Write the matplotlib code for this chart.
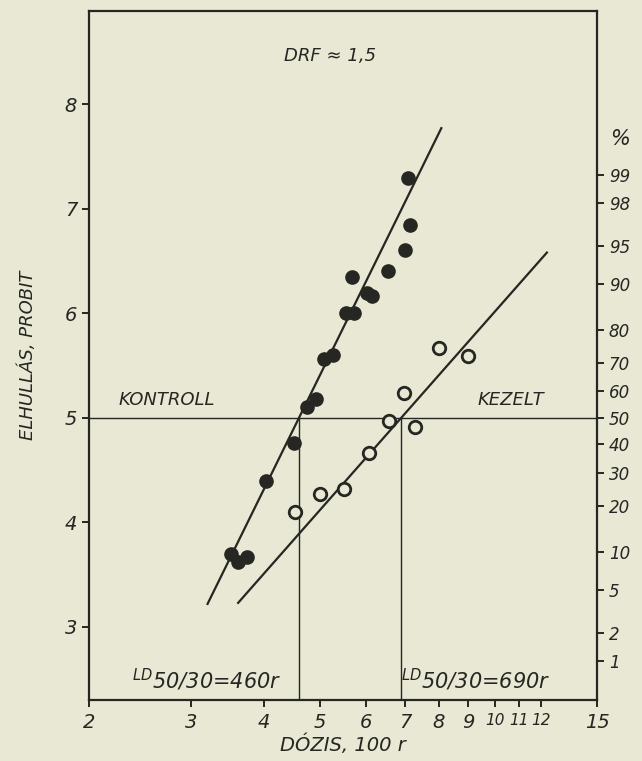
import numpy as np
import matplotlib.pyplot as plt
from matplotlib.ticker import FixedLocator, NullLocator

# control (filled dots): dose in 100 r, probit
kontroll_dose = [7.08, 7.13, 7.01, 6.55, 5.68, 6.03, 6.15, 5.54, 5.72, 5.08, 5.26,
                 4.92, 4.74, 4.51, 4.04, 3.51, 3.74, 3.61]
kontroll_probit = [7.29, 6.84, 6.60, 6.40, 6.35, 6.19, 6.16, 6.00, 6.00, 5.56, 5.60,
                   5.18, 5.10, 4.76, 4.40, 3.70, 3.67, 3.62]

# treated (open circles)
kezelt_dose = [4.53, 5.00, 5.50, 6.06, 6.56, 7.30, 6.98, 8.03, 9.00]
kezelt_probit = [4.10, 4.27, 4.32, 4.66, 4.97, 4.91, 5.24, 5.67, 5.59]

# fitted lines: LD50 (100 r), slope (probit per decade), probit range of drawn line
ld50 = [4.6, 6.9]
slopes = [11.3, 6.3]
line_probits = [(3.22, 7.77), (3.23, 6.58)]

x_ticks = [2, 3, 4, 5, 6, 7, 8, 9, 10, 11, 12, 15]
y_ticks = [3, 4, 5, 6, 7, 8]
pct_labels = [1, 2, 5, 10, 20, 30, 40, 50, 60, 70, 80, 90, 95, 98, 99]
# probit values of the percentages
pct_probits = [2.674, 2.946, 3.355, 3.718, 4.158, 4.476, 4.747, 5.0, 5.253, 5.524,
               5.842, 6.282, 6.645, 7.054, 7.326]

bg = '#e8e8d4'
ink = '#262622'
plt.rcParams['font.family'] = 'DejaVu Sans'
plt.rcParams['font.style'] = 'italic'

fig = plt.figure(figsize=(6.42, 7.61), dpi=100, facecolor=bg)
ax = fig.add_axes([0.1386, 0.080, 0.7914, 0.9055])
ax.set_facecolor(bg)
ax.set_xscale('log')
ax.set_xlim(2, 15)
ax.set_ylim(2.30, 8.89)

# probit 5 line and LD50 drops
ax.axhline(5, color=ink, lw=1.0)
for ld in ld50:
    ax.plot([ld, ld], [2.30, 5], color=ink, lw=1.0)

# fit lines
for ld, b, (y0, y1) in zip(ld50, slopes, line_probits):
    yy = np.array([y0, y1])
    xx = ld * 10 ** ((yy - 5) / b)
    ax.plot(xx, yy, color=ink, lw=1.6)

ax.plot(kontroll_dose, kontroll_probit, 'o', color=ink, ms=9.5, mec=ink)
ax.plot(kezelt_dose, kezelt_probit, 'o', mfc=bg, mec=ink, mew=2.0, ms=9)

for s in ax.spines.values():
    s.set_color(ink)
    s.set_linewidth(1.6)

ax.xaxis.set_major_locator(FixedLocator(x_ticks))
ax.xaxis.set_minor_locator(NullLocator())
ax.set_xticklabels([str(t) for t in x_ticks])
ax.set_yticks(y_ticks)
ax.tick_params(colors=ink, labelsize=14, length=5, width=1.4, direction='out')
ax.tick_params(axis='x', pad=4)
for lbl, t in zip(ax.get_xticklabels(), x_ticks):
    if 10 <= t <= 12:
        lbl.set_fontsize(11)

ax2 = ax.twinx()
ax2.set_ylim(ax.get_ylim())
ax2.set_yticks(pct_probits)
ax2.set_yticklabels([str(p) for p in pct_labels])
ax2.tick_params(colors=ink, labelsize=12, length=5, width=1.4, direction='out')
for s in ax2.spines.values():
    s.set_visible(False)
ax.text(1.025, 0.805, '%', transform=ax.transAxes, fontsize=15, color=ink)

ax.set_xlabel('DÓZIS, 100 r', fontsize=14, color=ink, labelpad=2)
ax.set_ylabel('ELHULLÁS, PROBIT', fontsize=13, color=ink, labelpad=20)

ax.text(0.475, 0.935, 'DRF ≈ 1,5', transform=ax.transAxes, fontsize=13,
        color=ink, ha='center', va='center')
ax.text(0.058, 0.436, 'KONTROLL', transform=ax.transAxes, fontsize=13,
        color=ink, ha='left', va='center')
ax.text(0.895, 0.436, 'KEZELT', transform=ax.transAxes, fontsize=13,
        color=ink, ha='right', va='center')
ax.text(0.085, 0.03, r'$^{LD}$50/30=460r', transform=ax.transAxes, fontsize=15,
        color=ink, ha='left', va='center')
ax.text(0.615, 0.03, r'$^{LD}$50/30=690r', transform=ax.transAxes, fontsize=15,
        color=ink, ha='left', va='center')

fig.savefig('out.png', dpi=100, facecolor=bg)
